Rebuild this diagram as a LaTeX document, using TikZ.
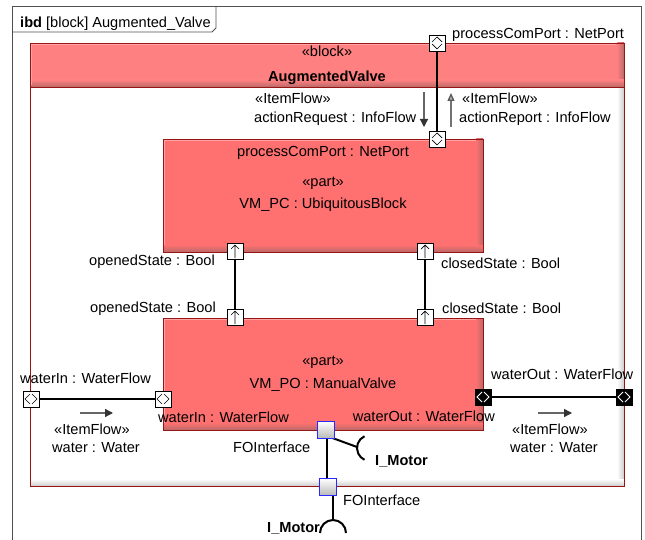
\documentclass[tikz,border=0pt]{standalone}
\usepackage{fontspec}
\setmainfont{Liberation Sans}
\usetikzlibrary{arrows.meta,calc}
\definecolor{partred}{RGB}{255,112,112}
\definecolor{hdrred}{RGB}{255,128,128}
\definecolor{partdark}{RGB}{185,105,105}
\definecolor{partlight}{RGB}{255,165,165}
\definecolor{bord}{RGB}{150,20,20}
\definecolor{framegray}{RGB}{80,80,80}
\definecolor{portblue}{RGB}{40,40,255}
\definecolor{bodyshade}{RGB}{205,205,205}
\newcommand\bevbox[6]{%
  \fill[#5] (#1,#2) rectangle (#3,#4);
  \shade[left color=#5, right color=#6] ({#3-7},#2) rectangle (#3,#4);
  \shade[top color=#5, bottom color=#6] (#1,{#4-7}) rectangle (#3,#4);
}
\begin{document}
\begin{tikzpicture}[x=1pt,y=-1pt,
  txt/.style={inner sep=0pt, font=\fontsize{14.6}{17}\selectfont, anchor=base west},
  ctxt/.style={txt, anchor=base},
  etxt/.style={txt, anchor=base east},
  btxt/.style={txt, font=\fontsize{14.6}{17}\selectfont\bfseries},
  port/.style={draw=black, fill=white, line width=0.8pt, minimum size=16pt, inner sep=0pt, outer sep=0pt},
  vbidir/.style={port, path picture={\draw[line width=0.7pt]
     ([shift={(-5pt,1pt)}]path picture bounding box.center) -- ++(5pt,5pt) -- ++(5pt,-5pt)
     ([shift={(-5pt,-1pt)}]path picture bounding box.center) -- ++(5pt,-5pt) -- ++(5pt,5pt);}},
  hbidir/.style={port, path picture={\draw[line width=0.7pt]
     ([shift={(-1pt,5pt)}]path picture bounding box.center) -- ++(-5pt,-5pt) -- ++(5pt,-5pt)
     ([shift={(1pt,5pt)}]path picture bounding box.center) -- ++(5pt,-5pt) -- ++(-5pt,-5pt);}},
  hbidirw/.style={port, fill=black, path picture={\draw[line width=0.8pt, white]
     ([shift={(-1pt,5pt)}]path picture bounding box.center) -- ++(-5pt,-5pt) -- ++(5pt,-5pt)
     ([shift={(1pt,5pt)}]path picture bounding box.center) -- ++(5pt,-5pt) -- ++(-5pt,-5pt);}},
  upport/.style={port, path picture={\draw[line width=0.7pt]
     ([yshift=-7pt]path picture bounding box.center) -- ++(0pt,13pt)
     ([shift={(-4pt,2pt)}]path picture bounding box.center) -- ++(4pt,4pt) -- ++(4pt,-4pt);}},
  foport/.style={draw=portblue, line width=1.2pt, minimum size=17pt, inner sep=0pt, outer sep=0pt,
     top color=white, bottom color=black!28},
  conn/.style={line width=2.6pt, black},
  thin/.style={line width=2pt, black},
  flow/.style={line width=1.3pt, black!60, -{Triangle[length=8pt,width=8pt,color=black!80]}},
  flowup/.style={line width=1.3pt, black!55, -{Triangle[length=8pt,width=7pt,fill=black!30,color=black!65]}}
]
\useasboundingbox (0,0) rectangle (645,540);
\fill[white] (0,0) rectangle (645,540);

% diagram frame
\draw[framegray, line width=0.9pt] (12,540) -- (12,6) -- (641,6) -- (641,540);
\draw[framegray, line width=0.9pt] (12,32) -- (212,32) -- (216,28) -- (216,6);
\node[txt] (ttl) at (20,28) {\textbf{ibd} [block] Augmented\_Valve};

% AugmentedValve block
\bevbox{30}{87}{624}{486}{white}{bodyshade}
\bevbox{30}{43}{624}{87}{hdrred}{partdark}
\draw[partlight, line width=1.2pt] (31.5,85) -- (31.5,44.5) -- (616,44.5);
\draw[bord, line width=0.8pt] (30,43) rectangle (624,486);
\draw[bord, line width=0.8pt] (30,87) -- (624,87);
\node[ctxt] (blkst) at (327,57) {«block»};
\node[ctxt, btxt, anchor=base] (blkname) at (327,82) {AugmentedValve};

% VM_PC part
\bevbox{163}{139}{483}{252}{partred}{partdark}
\draw[partlight, line width=1.2pt] (164.5,245) -- (164.5,140.5) -- (476,140.5);
\draw[bord, line width=0.8pt] (163,139) rectangle (483,252);
\node[ctxt] (pcpBl) at (323,157) {processComPort : NetPort};
\node[ctxt] (pcst) at (323,187) {«part»};
\node[ctxt] (pcname) at (323,209) {VM\_PC : UbiquitousBlock};

% VM_PO part
\bevbox{163}{318}{483}{430}{partred}{partdark}
\draw[partlight, line width=1.2pt] (164.5,423) -- (164.5,319.5) -- (476,319.5);
\draw[bord, line width=0.8pt] (163,318) rectangle (483,430);
\node[ctxt] (post) at (323,365) {«part»};
\node[ctxt] (poname) at (323,388) {VM\_PO : ManualValve};

% ports
\node[vbidir] (pcpA) at (437,43) {};
\node[vbidir] (pcpB) at (437,139) {};
\node[upport] (osA) at (235,251) {};
\node[upport] (osB) at (235,317) {};
\node[upport] (csA) at (425,251) {};
\node[upport] (csB) at (425,317) {};
\node[hbidir] (wiA) at (31,399) {};
\node[hbidir] (wiB) at (163,399) {};
\node[hbidirw] (woA) at (483,397) {};
\node[hbidirw] (woB) at (624,397) {};

% connectors
\draw[conn] (pcpA.south) -- (pcpB.north);
\draw[conn] (osA.south) -- (osB.north);
\draw[conn] (csA.south) -- (csB.north);
\draw[conn] (wiA.east) -- (wiB.west);
\draw[conn] (woA.east) -- (woB.west);

% FOInterface ports and sockets
\coordinate (sockA) at (357,447);
\coordinate (sockB) at (333,520);
\draw[thin] (327,436) -- (sockA);
\draw[thin] (327,438) -- (327,479);
\draw[thin] (333,494) -- (sockB);
\node[foport] (foA) at (326,430) {};
\node[foport] (foB) at (328,487) {};
\draw[thin] ([shift={(115:13pt)}]370,448) arc[start angle=115, end angle=245, radius=13pt];
\draw[thin] (320,533) arc[start angle=180, end angle=0, radius=13pt];

% item flow arrows
\coordinate (arq1) at (424,92);
\coordinate (arq2) at (424,127);
\coordinate (arp1) at (451,127);
\coordinate (arp2) at (451,93);
\coordinate (wfi1) at (80,413);
\coordinate (wfi2) at (113,413);
\coordinate (wfo1) at (538,413);
\coordinate (wfo2) at (572,413);
\draw[flow] (arq1) -- (arq2);
\draw[flowup] (arp1) -- (arp2);
\draw[flow] (wfi1) -- (wfi2);
\draw[flow] (wfo1) -- (wfo2);

% labels
\node[txt] (pcpAl) at (452,39) {processComPort : NetPort};
\node[txt] (ifl1) at (255,104) {«ItemFlow»};
\node[txt] (ifl2) at (254,122.5) {actionRequest : InfoFlow};
\node[txt] (ifr1) at (462,104) {«ItemFlow»};
\node[txt] (ifr2) at (459,122.5) {actionReport : InfoFlow};
\node[etxt] (osAl) at (215,265) {openedState : Bool};
\node[etxt] (osBl) at (216,312) {openedState : Bool};
\node[txt] (csAl) at (441,268) {closedState : Bool};
\node[txt] (csBl) at (442,313) {closedState : Bool};
\node[txt] (wiAl) at (20,383) {waterIn : WaterFlow};
\node[txt] (wiBl) at (158,422) {waterIn : WaterFlow};
\node[txt] (woBl) at (491,379) {waterOut : WaterFlow};
\node[etxt] (woAl) at (495,421) {waterOut : WaterFlow};
\node[txt] (wfil1) at (54,434) {«ItemFlow»};
\node[txt] (wfil2) at (52,452) {water : Water};
\node[txt] (wfol1) at (512,434) {«ItemFlow»};
\node[txt] (wfol2) at (510,452) {water : Water};
\node[txt] (foAl) at (233,452) {FOInterface};
\node[txt] (foBl) at (343,505) {FOInterface};
\node[btxt] (imA) at (375,465) {I\_Motor};
\node[btxt] (imB) at (267,532) {I\_Motor};
\end{tikzpicture}
\end{document}
